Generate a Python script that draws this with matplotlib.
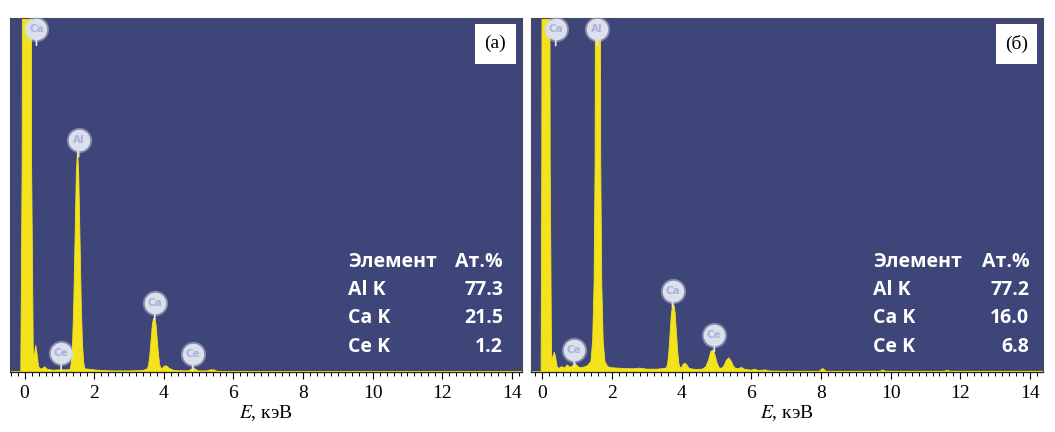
import matplotlib
matplotlib.use("Agg")
import matplotlib.pyplot as plt
from matplotlib.ticker import MultipleLocator
from matplotlib.patches import Rectangle

# ---------------- data ----------------
energy_a = [-0.45, -0.11, -0.07, -0.05, 0.18, 0.20, 0.25, 0.28, 0.32, 0.36, 0.40, 0.46,
            0.52, 0.58, 0.64, 0.80, 1.00, 1.20, 1.31, 1.345, 1.38, 1.415, 1.45, 1.485,
            1.52, 1.555, 1.59, 1.625, 1.66, 1.695, 1.73, 1.90, 2.10, 2.50, 3.00, 3.40,
            3.53, 3.565, 3.60, 3.635, 3.67, 3.705, 3.74, 3.775, 3.81, 3.845, 3.88, 3.915,
            3.96, 4.02, 4.08, 4.16, 4.30, 4.70, 4.78, 4.85, 4.92, 5.00, 5.25, 5.32, 5.45,
            5.52, 6.00, 14.40]
counts_a = [0.0, 0.0, 60, 200, 200, 60, 4.0, 5.0, 7.5, 5.0, 1.5, 0.8,
            1.0, 1.5, 0.8, 0.5, 0.6, 0.6, 0.7, 2.8, 8.5, 20.5, 38, 55.6,
            63, 55.6, 38, 20.5, 8.5, 2.8, 0.9, 0.7, 0.5, 0.3, 0.3, 0.4,
            0.9, 2.1, 5.0, 9.2, 13.4, 15.2, 15.2, 13.4, 9.2, 5.0, 2.1, 1.0,
            1.1, 1.7, 1.7, 1.0, 0.4, 0.3, 0.7, 1.2, 0.7, 0.3, 0.3, 0.6, 0.6,
            0.2, 0.1, 0.1]

energy_b = [-0.45, -0.03, -0.01, 0.01, 0.21, 0.23, 0.27, 0.31, 0.35, 0.39, 0.43, 0.48,
            0.55, 0.65, 0.72, 0.80, 0.88, 0.95, 1.02, 1.10, 1.20, 1.30, 1.40, 1.45,
            1.49, 1.52, 1.54, 1.66, 1.68, 1.71, 1.75, 1.80, 1.88, 2.00, 2.30, 2.60,
            2.80, 3.00, 3.30, 3.50, 3.57, 3.605, 3.64, 3.675, 3.71, 3.745, 3.78, 3.815,
            3.85, 3.885, 3.92, 3.955, 4.00, 4.05, 4.10, 4.15, 4.22, 4.40, 4.60, 4.70,
            4.78, 4.84, 4.90, 4.96, 5.02, 5.08, 5.15, 5.22, 5.28, 5.35, 5.42, 5.48,
            5.55, 5.65, 5.72, 5.80, 6.00, 6.10, 6.20, 6.40, 6.50, 7.00, 7.95, 8.05,
            8.15, 9.70, 9.77, 9.85, 11.55, 11.62, 11.70, 14.40]
counts_b = [0.0, 0.0, 60, 200, 200, 60, 3.5, 4.5, 5.6, 4.0, 1.5, 1.0,
            1.5, 1.2, 2.0, 1.3, 1.8, 2.4, 1.6, 1.2, 1.4, 1.8, 3.0, 9.0,
            25, 60, 200, 200, 60, 25, 9.0, 3.0, 1.5, 1.2, 1.0, 0.9,
            1.1, 0.8, 0.8, 1.0, 1.2, 2.6, 6.2, 11.5, 16.7, 19.0, 19.0, 16.7,
            11.5, 6.2, 2.6, 1.2, 1.3, 2.2, 2.5, 2.0, 1.0, 0.7, 0.8, 1.5,
            3.5, 5.8, 6.2, 4.8, 2.5, 1.2, 1.0, 1.8, 3.2, 4.0, 3.2, 1.8,
            1.0, 1.0, 1.3, 0.8, 0.5, 0.8, 0.4, 0.6, 0.3, 0.2, 0.2, 1.0,
            0.2, 0.2, 0.6, 0.2, 0.2, 0.5, 0.2, 0.2]

# peak label markers: element, energy (keV), height
labels_a = ["Ca", "Al", "Ce", "Ca", "Ce"]
label_e_a = [0.34, 1.55, 1.05, 3.74, 4.83]
label_y_a = [97.0, 65.5, 5.4, 19.5, 5.1]

labels_b = ["Ca", "Al", "Ce", "Ca", "Ce"]
label_e_b = [0.39, 1.58, 0.92, 3.74, 4.94]
label_y_b = [96.9, 96.9, 6.2, 23.0, 10.5]

# composition tables
table_header = ["Элемент", "Ат.%"]
elements = ["Al K", "Ca K", "Ce K"]
at_pct_a = ["77.3", "21.5", "1.2"]
at_pct_b = ["77.2", "16.0", "6.8"]

panel_tags = ["(а)", "(б)"]
xticks = [0, 2, 4, 6, 8, 10, 12, 14]

# ---------------- style ----------------
BG = "#3d4579"
YEL = "#f4e31c"
plt.rcParams["mathtext.fontset"] = "stix"

fig = plt.figure(figsize=(10.55, 4.32), dpi=100)
ax_a = fig.add_axes([10 / 1055, 1 - 372 / 432, 512 / 1055, 354 / 432])
ax_b = fig.add_axes([531 / 1055, 1 - 372 / 432, 512 / 1055, 354 / 432])

panels = [
    (ax_a, energy_a, counts_a, labels_a, label_e_a, label_y_a, at_pct_a, panel_tags[0], (-0.42, 14.29), 0.660, 0.963),
    (ax_b, energy_b, counts_b, labels_b, label_e_b, label_y_b, at_pct_b, panel_tags[1], (-0.32, 14.37), 0.668, 0.973),
]

for ax, e, c, labs, le, ly, pct, tag, xl, tx0, tx1 in panels:
    ax.set_facecolor(BG)
    ax.fill_between(e, 0, c, color=YEL, lw=0.6, edgecolor=YEL, zorder=2)
    ax.set_xlim(*xl)
    ax.set_ylim(0, 100)
    ax.set_yticks([])
    ax.set_xticks(xticks)
    ax.xaxis.set_minor_locator(MultipleLocator(0.2))
    ax.tick_params(axis="x", which="major", direction="out", length=5, width=0.8,
                   color="black", pad=4)
    ax.tick_params(axis="x", which="minor", direction="out", length=3, width=0.7,
                   color="black")
    for lab in ax.get_xticklabels():
        lab.set_fontfamily("Liberation Serif")
        lab.set_fontsize(14)
    for s in ["top", "left", "right"]:
        ax.spines[s].set_color("#4a4a55")
        ax.spines[s].set_linewidth(0.8)
    ax.spines["bottom"].set_color("#222222")
    ax.spines["bottom"].set_linewidth(0.9)
    ax.set_xlabel(r"$E$, кэВ", fontfamily="Liberation Serif", fontsize=14, labelpad=1)

    # peak label balloons
    for name, xe, yv in zip(labs, le, ly):
        ax.annotate("", xy=(xe, yv), xytext=(0, -14), textcoords="offset points",
                    arrowprops=dict(arrowstyle="-", color="#dfe2ee", lw=1.3),
                    zorder=4, annotation_clip=False)
        ax.scatter([xe], [yv], s=330, color="#d7dae8", alpha=0.45, lw=0, zorder=5, clip_on=False)
        ax.scatter([xe], [yv], s=240, color="#dcdfec", lw=0, zorder=6, clip_on=False)
        ax.text(xe, yv, name, ha="center", va="center", fontsize=7.5, color="#a9b3da",
                fontweight="bold", fontfamily="DejaVu Sans", zorder=7, clip_on=False)

    # composition table
    rows_y = [0.311, 0.232, 0.153, 0.071]
    col1 = [table_header[0]] + elements
    col2 = [table_header[1]] + pct
    for yv, t1, t2 in zip(rows_y, col1, col2):
        ax.text(tx0, yv, t1, transform=ax.transAxes, ha="left", va="center",
                fontsize=14, fontweight="bold", color="white", fontfamily="Open Sans", zorder=8)
        ax.text(tx1, yv, t2, transform=ax.transAxes, ha="right", va="center",
                fontsize=14, fontweight="bold", color="white", fontfamily="Open Sans", zorder=8)

    # panel tag box
    ax.add_patch(Rectangle((0.908, 0.870), 0.080, 0.113, transform=ax.transAxes,
                           facecolor="white", edgecolor="none", zorder=8))
    ax.text(0.948, 0.927, tag, transform=ax.transAxes, ha="center", va="center",
            fontsize=14, fontfamily="Liberation Serif", color="black", zorder=9)

fig.savefig("out.png", dpi=100)
